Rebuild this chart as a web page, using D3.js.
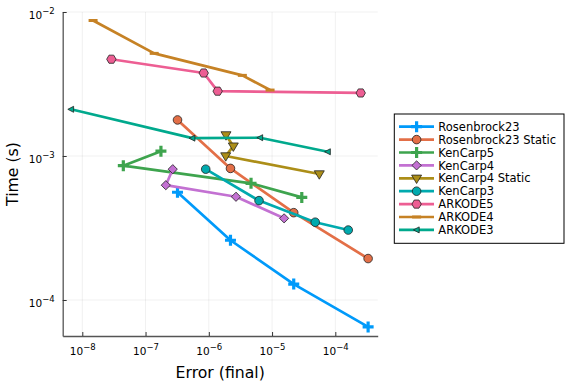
<!DOCTYPE html>
<html>
<head>
<meta charset="utf-8">
<script src="https://cdn.jsdelivr.net/npm/d3@7"></script>
<style>
  body { margin: 0; background: #fff; }
  text { font-family: "DejaVu Sans", sans-serif; fill: #000; }
</style>
</head>
<body>
<script>
// data (error, time)
var names = ["Rosenbrock23", "Rosenbrock23 Static", "KenCarp5", "KenCarp4", "KenCarp4 Static",
             "KenCarp3", "ARKODE5", "ARKODE4", "ARKODE3"];
var errR23   = [3.2e-7, 2.2e-6, 2.2e-5, 3.3e-4];
var timeR23  = [5.6e-4, 2.6e-4, 1.29e-4, 6.5e-5];
var errR23S  = [3.2e-7, 2.2e-6, 2.2e-5, 3.3e-4];
var timeR23S = [1.78e-3, 8.2e-4, 4.04e-4, 1.94e-4];
var errKC5   = [1.75e-7, 4.45e-8, 4.65e-6, 2.95e-5];
var timeKC5  = [1.08e-3, 8.57e-4, 6.46e-4, 5.16e-4];
var errKC4   = [2.69e-7, 2.09e-7, 2.69e-6, 1.55e-5];
var timeKC4  = [8.1e-4, 6.27e-4, 5.21e-4, 3.69e-4];
var errKC4S  = [1.87e-6, 2.44e-6, 1.85e-6, 5.58e-5];
var timeKC4S = [1.4e-3, 1.17e-3, 1.0e-3, 7.5e-4];
var errKC3   = [8.93e-7, 6.22e-6, 4.81e-5, 1.6e-4];
var timeKC3  = [8.1e-4, 4.9e-4, 3.47e-4, 3.06e-4];
var errA5    = [2.88e-8, 8.3e-7, 1.38e-6, 2.52e-4];
var timeA5   = [4.7e-3, 3.77e-3, 2.82e-3, 2.74e-3];
var errA4    = [1.48e-8, 1.37e-7, 3.39e-6, 9.3e-6];
var timeA4   = [8.73e-3, 5.16e-3, 3.63e-3, 2.87e-3];
var errA3    = [6.63e-9, 5.48e-7, 6.46e-6, 7.59e-5];
var timeA3   = [2.11e-3, 1.33e-3, 1.34e-3, 1.07e-3];

var xTicks = [1e-8, 1e-7, 1e-6, 1e-5, 1e-4];
var yTicks = [1e-4, 1e-3, 1e-2];

var colors = ["#009AFA", "#E36F47", "#3EA44E", "#C371D2", "#AC8E18",
              "#00AAAE", "#ED5E93", "#C68225", "#00A98D"];
var shapes = ["cross", "circle", "cross", "diamond", "dtriangle",
              "circle", "hexagon", "hline", "ltriangle"];

var errs  = [errR23, errR23S, errKC5, errKC4, errKC4S, errKC3, errA5, errA4, errA3];
var times = [timeR23, timeR23S, timeKC5, timeKC4, timeKC4S, timeKC3, timeA5, timeA4, timeA3];

var series = names.map(function(n, i) {
  return { name: n, color: colors[i], shape: shapes[i],
           pts: errs[i].map(function(e, j) { return { err: e, time: times[i][j] }; }) };
});

// layout
var W = 576, H = 384;
var margin = {top: 12, right: 198.3, bottom: 48, left: 62.7},
    width = W - margin.left - margin.right,
    height = H - margin.top - margin.bottom;

var x = d3.scaleLog().domain([Math.pow(10, -8.31), Math.pow(10, -3.33)]).range([0, width]),
    y = d3.scaleLog().domain([Math.pow(10, -4.25), 1e-2]).range([height, 0]);

var svg = d3.select("body").append("svg")
    .attr("width", W).attr("height", H);
var g = svg.append("g")
    .attr("transform", "translate(" + margin.left + "," + margin.top + ")");

// grid
g.append("g").selectAll("line").data(xTicks).enter().append("line")
  .attr("x1", function(d) { return x(d); }).attr("x2", function(d) { return x(d); })
  .attr("y1", 0).attr("y2", height)
  .attr("stroke", "#000").attr("stroke-opacity", 0.1).attr("stroke-width", 0.6);
g.append("g").selectAll("line").data(yTicks).enter().append("line")
  .attr("y1", function(d) { return y(d); }).attr("y2", function(d) { return y(d); })
  .attr("x1", 0).attr("x2", width)
  .attr("stroke", "#000").attr("stroke-opacity", 0.1).attr("stroke-width", 0.6);

function supLabel(sel) {
  sel.each(function(d) {
    var t = d3.select(this).text("");
    var p = Math.round(Math.log10(d));
    t.append("tspan").text("10");
    t.append("tspan").attr("dy", "-0.6em").attr("font-size", "8.5px")
      .text("\u2212" + Math.abs(p));
  });
}

// axes (ticks point inward like the original)
var xAxis = g.append("g")
  .attr("transform", "translate(0," + height + ")")
  .call(d3.axisBottom(x).tickValues(xTicks).tickSizeInner(-4).tickSizeOuter(0).tickPadding(10));
xAxis.select(".domain").attr("stroke", "#555").attr("stroke-width", 1.3);
xAxis.selectAll(".tick line").attr("stroke", "#333");
xAxis.selectAll(".tick text").attr("font-size", "10.5px").attr("dy", "0.9em").call(supLabel);

var yAxis = g.append("g")
  .call(d3.axisLeft(y).tickValues(yTicks).tickSizeInner(-4).tickSizeOuter(0).tickPadding(8));
yAxis.select(".domain").attr("stroke", "#555").attr("stroke-width", 1.3);
yAxis.selectAll(".tick line").attr("stroke", "#333");
yAxis.selectAll(".tick text").attr("font-size", "10.5px").attr("dy", "0.6em").call(supLabel);
svg.selectAll(".tick text").attr("font-family", "DejaVu Sans").attr("fill", "#000");

// axis titles
svg.append("text")
  .attr("x", margin.left + width / 2).attr("y", 378)
  .attr("text-anchor", "middle").attr("font-size", "15.7px")
  .text("Error (final)");
svg.append("text")
  .attr("transform", "translate(18," + (margin.top + height / 2) + ") rotate(-90)")
  .attr("text-anchor", "middle").attr("font-size", "15.7px")
  .text("Time (s)");

// marker paths
function markerPath(shape) {
  switch (shape) {
    case "cross": return "M-1.6,-5.5H1.6V-1.6H5.5V1.6H1.6V5.5H-1.6V1.6H-5.5V-1.6H-1.6Z";
    case "circle": return d3.symbol(d3.symbolCircle, Math.PI * 4.3 * 4.3)();
    case "diamond": return "M0,-4.6L4.6,0L0,4.6L-4.6,0Z";
    case "dtriangle": return "M-5,-3.2L5,-3.2L0,5.2Z";
    case "hexagon":
      var pts = d3.range(6).map(function(k) {
        var a = Math.PI / 3 * k;
        return [4.7 * Math.cos(a), 4.7 * Math.sin(a)];
      });
      return "M" + pts.join("L") + "Z";
    case "ltriangle": return "M-3.2,0L2.6,-3L2.6,3Z";
    case "hline": return "M-4.5,0H4.5";
  }
  return "";
}

function drawMarker(sel, s) {
  var p = sel.append("path").attr("d", markerPath(s.shape));
  if (s.shape === "hline") {
    p.attr("fill", "none").attr("stroke", s.color).attr("stroke-width", 3);
  } else if (s.shape === "cross") {
    p.attr("fill", s.color);
  } else {
    p.attr("fill", s.color).attr("stroke", "#222").attr("stroke-width", 0.8);
  }
}

var line = d3.line()
  .x(function(d) { return x(d.err); })
  .y(function(d) { return y(d.time); });

series.forEach(function(s) {
  var sg = g.append("g");
  sg.append("path").datum(s.pts)
    .attr("d", line)
    .attr("fill", "none").attr("stroke", s.color).attr("stroke-width", 2.7)
    .attr("stroke-linejoin", "round");
  s.pts.forEach(function(d) {
    var mg = sg.append("g").attr("transform", "translate(" + x(d.err) + "," + y(d.time) + ")");
    drawMarker(mg, s);
  });
});

// legend
var lg = svg.append("g").attr("transform", "translate(394.3,114)");
lg.append("rect").attr("width", 169.7).attr("height", 129.3)
  .attr("fill", "#fff").attr("stroke", "#000").attr("stroke-width", 1);
series.forEach(function(s, i) {
  var yy = 12.7 + i * 12.9;
  var row = lg.append("g").attr("transform", "translate(0," + yy + ")");
  row.append("line").attr("x1", 4.7).attr("x2", 39.7)
    .attr("stroke", s.color).attr("stroke-width", 2.7);
  drawMarker(row.append("g").attr("transform", "translate(22.3,0)"), s);
  row.append("text").attr("x", 44).attr("dy", "0.36em")
    .attr("font-size", "11.5px").text(s.name);
});
</script>
</body>
</html>
